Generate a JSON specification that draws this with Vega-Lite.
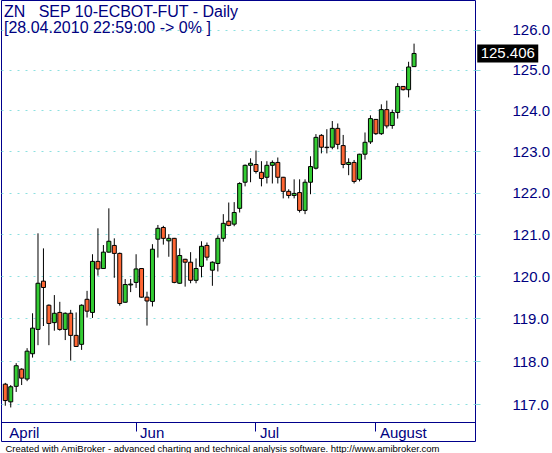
{
  "$schema": "https://vega.github.io/schema/vega-lite/v6.json",
  "width": 474,
  "height": 441,
  "autosize": {"type": "none"},
  "padding": {"left": 1, "top": 0, "right": 77, "bottom": 12},
  "background": "white",
  "config": {"view": {"stroke": "#00008b", "strokeWidth": 1}, "font": "Liberation Sans"},
  "title": {
    "text": "ZN\u00a0\u00a0\u00a0SEP 10-ECBOT-FUT - Daily",
    "subtitle": "[28.04.2010 22:59:00 -> 0% ]",
    "anchor": "start", "frame": "group", "orient": "top", "offset": -36, "dx": 3,
    "font": "Liberation Sans", "fontSize": 16, "fontWeight": "normal", "color": "#000080",
    "subtitleFont": "Liberation Sans", "subtitleFontSize": 16, "subtitleColor": "#000080", "subtitlePadding": 0
  },
  "data": {"values": [
    {"d": "2010-04-28", "o": 117.46, "h": 117.49, "l": 116.96, "c": 117.08},
    {"d": "2010-04-29", "o": 117.05, "h": 117.44, "l": 116.92, "c": 117.40},
    {"d": "2010-04-30", "o": 117.41, "h": 117.95, "l": 117.28, "c": 117.89},
    {"d": "2010-05-03", "o": 117.81, "h": 117.83, "l": 117.44, "c": 117.60},
    {"d": "2010-05-04", "o": 117.58, "h": 118.30, "l": 117.53, "c": 118.23},
    {"d": "2010-05-05", "o": 118.17, "h": 119.12, "l": 118.08, "c": 118.77},
    {"d": "2010-05-06", "o": 118.74, "h": 121.02, "l": 118.37, "c": 119.83},
    {"d": "2010-05-07", "o": 119.88, "h": 120.66, "l": 118.82, "c": 119.73},
    {"d": "2010-05-10", "o": 119.31, "h": 119.33, "l": 118.37, "c": 118.88},
    {"d": "2010-05-11", "o": 118.90, "h": 119.55, "l": 118.71, "c": 119.12},
    {"d": "2010-05-12", "o": 119.14, "h": 119.39, "l": 118.71, "c": 118.74},
    {"d": "2010-05-13", "o": 118.74, "h": 119.14, "l": 118.49, "c": 119.12},
    {"d": "2010-05-14", "o": 119.12, "h": 119.20, "l": 118.01, "c": 118.60},
    {"d": "2010-05-17", "o": 118.60, "h": 119.14, "l": 118.33, "c": 118.34},
    {"d": "2010-05-18", "o": 118.39, "h": 119.33, "l": 118.26, "c": 119.31},
    {"d": "2010-05-19", "o": 119.45, "h": 119.65, "l": 119.02, "c": 119.17},
    {"d": "2010-05-20", "o": 119.14, "h": 120.52, "l": 119.01, "c": 120.35},
    {"d": "2010-05-21", "o": 120.35, "h": 121.14, "l": 120.01, "c": 120.17},
    {"d": "2010-05-24", "o": 120.18, "h": 120.74, "l": 120.17, "c": 120.57},
    {"d": "2010-05-25", "o": 120.57, "h": 121.62, "l": 120.56, "c": 120.83},
    {"d": "2010-05-26", "o": 120.73, "h": 120.90, "l": 119.96, "c": 120.54},
    {"d": "2010-05-27", "o": 120.54, "h": 120.56, "l": 119.30, "c": 119.35},
    {"d": "2010-05-28", "o": 119.38, "h": 119.93, "l": 119.37, "c": 119.80},
    {"d": "2010-05-31", "o": 119.79, "h": 119.93, "l": 119.62, "c": 119.81},
    {"d": "2010-06-01", "o": 119.85, "h": 120.52, "l": 119.72, "c": 120.17},
    {"d": "2010-06-02", "o": 120.18, "h": 120.19, "l": 119.49, "c": 119.50},
    {"d": "2010-06-03", "o": 119.50, "h": 119.63, "l": 118.83, "c": 119.41},
    {"d": "2010-06-04", "o": 119.40, "h": 120.76, "l": 119.28, "c": 120.64},
    {"d": "2010-06-07", "o": 120.88, "h": 121.22, "l": 120.44, "c": 121.14},
    {"d": "2010-06-08", "o": 121.16, "h": 121.20, "l": 120.75, "c": 120.90},
    {"d": "2010-06-09", "o": 120.84, "h": 121.00, "l": 120.46, "c": 120.90},
    {"d": "2010-06-10", "o": 120.90, "h": 120.91, "l": 119.83, "c": 119.85},
    {"d": "2010-06-11", "o": 119.83, "h": 120.66, "l": 119.82, "c": 120.49},
    {"d": "2010-06-14", "o": 120.40, "h": 120.41, "l": 119.75, "c": 120.33},
    {"d": "2010-06-15", "o": 120.33, "h": 120.57, "l": 119.83, "c": 119.90},
    {"d": "2010-06-16", "o": 119.90, "h": 120.42, "l": 119.83, "c": 120.18},
    {"d": "2010-06-17", "o": 120.23, "h": 120.83, "l": 119.97, "c": 120.71},
    {"d": "2010-06-18", "o": 120.73, "h": 120.80, "l": 120.37, "c": 120.45},
    {"d": "2010-06-21", "o": 120.14, "h": 120.35, "l": 119.77, "c": 120.33},
    {"d": "2010-06-22", "o": 120.30, "h": 120.97, "l": 120.11, "c": 120.90},
    {"d": "2010-06-23", "o": 120.90, "h": 121.48, "l": 120.82, "c": 121.26},
    {"d": "2010-06-24", "o": 121.31, "h": 121.76, "l": 121.19, "c": 121.21},
    {"d": "2010-06-25", "o": 121.24, "h": 121.77, "l": 121.19, "c": 121.52},
    {"d": "2010-06-28", "o": 121.62, "h": 122.25, "l": 121.52, "c": 122.22},
    {"d": "2010-06-29", "o": 122.25, "h": 122.68, "l": 122.15, "c": 122.66},
    {"d": "2010-06-30", "o": 122.66, "h": 122.83, "l": 122.25, "c": 122.71},
    {"d": "2010-07-01", "o": 122.68, "h": 123.02, "l": 122.46, "c": 122.51},
    {"d": "2010-07-02", "o": 122.49, "h": 122.76, "l": 122.15, "c": 122.34},
    {"d": "2010-07-05", "o": 122.37, "h": 122.76, "l": 122.22, "c": 122.66},
    {"d": "2010-07-06", "o": 122.66, "h": 122.78, "l": 122.22, "c": 122.73},
    {"d": "2010-07-07", "o": 122.73, "h": 122.85, "l": 122.22, "c": 122.37},
    {"d": "2010-07-08", "o": 122.37, "h": 122.38, "l": 121.86, "c": 122.03},
    {"d": "2010-07-09", "o": 122.03, "h": 122.08, "l": 121.86, "c": 121.93},
    {"d": "2010-07-12", "o": 121.93, "h": 122.32, "l": 121.86, "c": 121.98},
    {"d": "2010-07-13", "o": 122.00, "h": 122.32, "l": 121.52, "c": 121.57},
    {"d": "2010-07-14", "o": 121.57, "h": 122.32, "l": 121.48, "c": 122.25},
    {"d": "2010-07-15", "o": 122.25, "h": 122.88, "l": 121.96, "c": 122.63},
    {"d": "2010-07-16", "o": 122.59, "h": 123.42, "l": 122.56, "c": 123.34},
    {"d": "2010-07-19", "o": 123.39, "h": 123.42, "l": 122.95, "c": 123.10},
    {"d": "2010-07-20", "o": 123.10, "h": 123.54, "l": 122.95, "c": 123.09},
    {"d": "2010-07-21", "o": 123.10, "h": 123.74, "l": 123.05, "c": 123.56},
    {"d": "2010-07-22", "o": 123.56, "h": 123.68, "l": 123.05, "c": 123.17},
    {"d": "2010-07-23", "o": 123.14, "h": 123.40, "l": 122.59, "c": 122.68},
    {"d": "2010-07-26", "o": 122.68, "h": 122.83, "l": 122.42, "c": 122.73},
    {"d": "2010-07-27", "o": 122.73, "h": 122.79, "l": 122.22, "c": 122.27},
    {"d": "2010-07-28", "o": 122.32, "h": 122.94, "l": 122.27, "c": 122.93},
    {"d": "2010-07-29", "o": 122.93, "h": 123.46, "l": 122.80, "c": 123.22},
    {"d": "2010-07-30", "o": 123.23, "h": 123.88, "l": 123.18, "c": 123.80},
    {"d": "2010-08-02", "o": 123.78, "h": 123.79, "l": 123.40, "c": 123.43},
    {"d": "2010-08-03", "o": 123.43, "h": 124.15, "l": 123.40, "c": 124.02},
    {"d": "2010-08-04", "o": 124.02, "h": 124.24, "l": 123.56, "c": 123.62},
    {"d": "2010-08-05", "o": 123.63, "h": 124.02, "l": 123.55, "c": 123.95},
    {"d": "2010-08-06", "o": 123.95, "h": 124.67, "l": 123.80, "c": 124.59},
    {"d": "2010-08-09", "o": 124.59, "h": 124.60, "l": 124.49, "c": 124.51},
    {"d": "2010-08-10", "o": 124.51, "h": 125.20, "l": 124.32, "c": 125.07},
    {"d": "2010-08-11", "o": 125.08, "h": 125.65, "l": 125.07, "c": 125.406}
  ]},
  "encoding": {
    "x": {
      "field": "d", "type": "ordinal",
      "scale": {
        "type": "band", "paddingInner": 0, "paddingOuter": 0.486, "align": 0.297,
        "domain": ["2010-04-28", "2010-04-29", "2010-04-30", "2010-05-03", "2010-05-04", "2010-05-05", "2010-05-06", "2010-05-07", "2010-05-10", "2010-05-11", "2010-05-12", "2010-05-13", "2010-05-14", "2010-05-17", "2010-05-18", "2010-05-19", "2010-05-20", "2010-05-21", "2010-05-24", "2010-05-25", "2010-05-26", "2010-05-27", "2010-05-28", "2010-05-31", "2010-06-01", "2010-06-02", "2010-06-03", "2010-06-04", "2010-06-07", "2010-06-08", "2010-06-09", "2010-06-10", "2010-06-11", "2010-06-14", "2010-06-15", "2010-06-16", "2010-06-17", "2010-06-18", "2010-06-21", "2010-06-22", "2010-06-23", "2010-06-24", "2010-06-25", "2010-06-28", "2010-06-29", "2010-06-30", "2010-07-01", "2010-07-02", "2010-07-05", "2010-07-06", "2010-07-07", "2010-07-08", "2010-07-09", "2010-07-12", "2010-07-13", "2010-07-14", "2010-07-15", "2010-07-16", "2010-07-19", "2010-07-20", "2010-07-21", "2010-07-22", "2010-07-23", "2010-07-26", "2010-07-27", "2010-07-28", "2010-07-29", "2010-07-30", "2010-08-02", "2010-08-03", "2010-08-04", "2010-08-05", "2010-08-06", "2010-08-09", "2010-08-10", "2010-08-11", "2010-08-12", "2010-08-13", "2010-08-16", "2010-08-17", "2010-08-18", "2010-08-19", "2010-08-20", "2010-08-23", "2010-08-24", "2010-08-25"]
      },
      "axis": {
        "orient": "bottom", "offset": -19,
        "values": ["2010-04-28", "2010-06-01", "2010-07-01", "2010-08-02"],
        "labelExpr": "datum.value == '2010-04-28' ? 'April' : datum.value == '2010-06-01' ? 'Jun' : datum.value == '2010-07-01' ? 'Jul' : 'August'",
        "labelAngle": 0, "labelAlign": "left", "labelBaseline": "alphabetic", "labelOffset": 4, "labelPadding": 6,
        "labelFont": "Liberation Sans", "labelFontSize": 15, "labelColor": "#000080", "labelOverlap": false,
        "domain": true, "domainColor": "#00008b", "ticks": true, "tickColor": "#00008b", "tickSize": 9,
        "tickOpacity": {"condition": {"test": "datum.value == '2010-04-28'", "value": 0}, "value": 1},
        "grid": false,
        "title": "Created with AmiBroker - advanced charting and technical analysis software. http://www.amibroker.com",
        "titleFont": "Liberation Sans", "titleFontSize": 9.5, "titleFontWeight": "normal", "titleColor": "black",
        "titleAnchor": "start", "titleAlign": "left", "titleBaseline": "alphabetic", "titleX": 4, "titleY": 29
      }
    }
  },
  "layer": [
    {
      "mark": {"type": "rule", "color": "black", "strokeWidth": 1},
      "encoding": {
        "y": {"field": "l", "type": "quantitative",
          "scale": {"type": "log", "domain": [116.584, 126.74], "range": [422, 0], "nice": false},
          "axis": {"orient": "right", "values": [117, 118, 119, 120, 121, 122, 123, 124, 125, 126], "format": ".1f", "domain": false, "grid": true, "gridColor": "#8ce0e0", "gridDash": [2, 6], "gridWidth": 1, "ticks": true, "tickColor": "#8ce0e0", "tickSize": 5, "labelPadding": 32, "labelAlign": "left", "labelBaseline": "middle", "labelFont": "Liberation Sans", "labelFontSize": 15, "labelColor": "#000080", "title": null}},
        "y2": {"field": "h"}
      }
    },
    {
      "mark": {"type": "bar", "width": 4, "stroke": "black", "strokeWidth": 1},
      "encoding": {
        "y": {"field": "o", "type": "quantitative",
          "scale": {"type": "log", "domain": [116.584, 126.74], "range": [422, 0], "nice": false},
          "axis": {"orient": "right", "values": [117, 118, 119, 120, 121, 122, 123, 124, 125, 126], "format": ".1f", "domain": false, "grid": true, "gridColor": "#8ce0e0", "gridDash": [2, 6], "gridWidth": 1, "ticks": true, "tickColor": "#8ce0e0", "tickSize": 5, "labelPadding": 32, "labelAlign": "left", "labelBaseline": "middle", "labelFont": "Liberation Sans", "labelFontSize": 15, "labelColor": "#000080", "title": null}},
        "y2": {"field": "c"},
        "fill": {"condition": {"test": "datum.c >= datum.o", "value": "#33cc33"}, "value": "#ff6633"}
      }
    },
    {
      "transform": [{"filter": "datum.d == '2010-08-11'"}],
      "mark": {"type": "point", "shape": "M-1,-0.295L1,-0.295L1,0.295L-1,0.295Z", "size": 3721, "filled": true, "fill": "black", "strokeWidth": 0, "opacity": 1, "xOffset": 93.7},
      "encoding": {
        "y": {"field": "c", "type": "quantitative",
          "scale": {"type": "log", "domain": [116.584, 126.74], "range": [422, 0], "nice": false},
          "axis": {"orient": "right", "values": [117, 118, 119, 120, 121, 122, 123, 124, 125, 126], "format": ".1f", "domain": false, "grid": true, "gridColor": "#8ce0e0", "gridDash": [2, 6], "gridWidth": 1, "ticks": true, "tickColor": "#8ce0e0", "tickSize": 5, "labelPadding": 32, "labelAlign": "left", "labelBaseline": "middle", "labelFont": "Liberation Sans", "labelFontSize": 15, "labelColor": "#000080", "title": null}}
      }
    },
    {
      "transform": [{"filter": "datum.d == '2010-08-11'"}],
      "mark": {"type": "text", "color": "white", "font": "Liberation Sans", "fontSize": 15, "align": "center", "baseline": "middle", "xOffset": 93.7},
      "encoding": {
        "y": {"field": "c", "type": "quantitative",
          "scale": {"type": "log", "domain": [116.584, 126.74], "range": [422, 0], "nice": false},
          "axis": {"orient": "right", "values": [117, 118, 119, 120, 121, 122, 123, 124, 125, 126], "format": ".1f", "domain": false, "grid": true, "gridColor": "#8ce0e0", "gridDash": [2, 6], "gridWidth": 1, "ticks": true, "tickColor": "#8ce0e0", "tickSize": 5, "labelPadding": 32, "labelAlign": "left", "labelBaseline": "middle", "labelFont": "Liberation Sans", "labelFontSize": 15, "labelColor": "#000080", "title": null}},
        "text": {"field": "c", "type": "quantitative", "format": ".3f"}
      }
    }
  ]
}
